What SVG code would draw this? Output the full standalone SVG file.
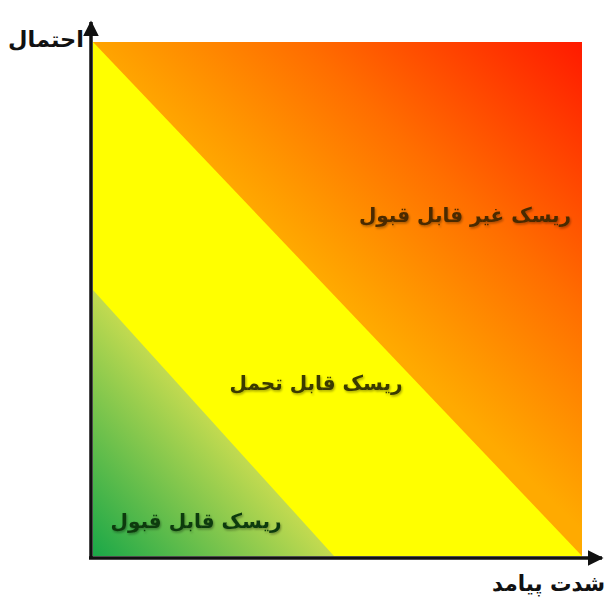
<svg xmlns="http://www.w3.org/2000/svg" width="609" height="599" viewBox="0 0 609 599">
<style>
.lbl{font-family:"DejaVu Sans",sans-serif;font-weight:bold;text-anchor:middle}
.ax{font-family:"DejaVu Sans",sans-serif;font-weight:bold;fill:#111}
.axis{stroke:#111;stroke-width:3.5;fill:none}
</style>
<defs>
<linearGradient id="gRed" gradientUnits="userSpaceOnUse" x1="338" y1="298" x2="582" y2="42">
<stop offset="0" stop-color="#FFAA00"/>
<stop offset="0.45" stop-color="#FF6E00"/>
<stop offset="1" stop-color="#FF1A00"/>
</linearGradient>
<linearGradient id="gGreen" gradientUnits="userSpaceOnUse" x1="95" y1="555" x2="226" y2="437">
<stop offset="0" stop-color="#1CA848"/>
<stop offset="1" stop-color="#C2DA50"/>
</linearGradient>
<marker id="arr" viewBox="0 0 10 10" refX="9" refY="5" markerWidth="4.5" markerHeight="4.5" orient="auto" markerUnits="strokeWidth">
<path d="M0,0 L10,5 L0,10 z" fill="#111"/>
</marker>
<filter id="sh" x="-10%" y="-30%" width="120%" height="160%">
<feDropShadow dx="1" dy="1.5" stdDeviation="1" flood-color="#000" flood-opacity="0.35"/>
</filter>
</defs>
<g id="zone-yellow"><rect x="93" y="42" width="489" height="514" fill="#FFFF00"/></g>
<g id="zone-red"><polygon points="93,42 582,42 582,556" fill="url(#gRed)"/></g>
<g id="zone-green"><polygon points="93,290 93,556 334,556" fill="url(#gGreen)"/></g>
<g id="label-unacceptable"><text class="lbl" x="465" y="222" font-size="20" fill="#4A2A00" filter="url(#sh)">ریسک غیر قابل قبول</text></g>
<g id="label-tolerable"><text class="lbl" x="316" y="390" font-size="20" fill="#3A3A00" filter="url(#sh)">ریسک قابل تحمل</text></g>
<g id="label-acceptable"><text class="lbl" x="196" y="528" font-size="20" fill="#0F3A10" filter="url(#sh)">ریسک قابل قبول</text></g>
<g id="connectors">
<line class="axis" x1="91" y1="558" x2="91" y2="22" marker-end="url(#arr)"/>
<line class="axis" x1="89" y1="558" x2="602" y2="558" marker-end="url(#arr)"/>
</g>
<g id="axis-labels">
<text class="ax" x="84" y="47" font-size="22" text-anchor="end" textLength="76" lengthAdjust="spacingAndGlyphs">احتمال</text>
<text class="ax" x="605" y="591" font-size="22" text-anchor="end" textLength="113" lengthAdjust="spacingAndGlyphs">شدت پیامد</text>
</g>
</svg>
